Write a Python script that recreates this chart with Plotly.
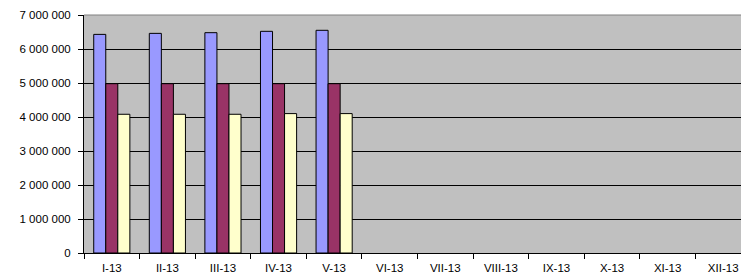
import plotly.graph_objects as go

categories = ["I-13", "II-13", "III-13", "IV-13", "V-13", "VI-13",
              "VII-13", "VIII-13", "IX-13", "X-13", "XI-13", "XII-13"]
series_a = [6430000, 6460000, 6480000, 6520000, 6550000, None, None, None, None, None, None, None]
series_b = [4980000, 4980000, 4980000, 4980000, 4980000, None, None, None, None, None, None, None]
series_c = [4080000, 4080000, 4080000, 4100000, 4100000, None, None, None, None, None, None, None]
y_ticks = [0, 1000000, 2000000, 3000000, 4000000, 5000000, 6000000, 7000000]
y_labels = ["0", "1 000 000", "2 000 000", "3 000 000", "4 000 000",
            "5 000 000", "6 000 000", "7 000 000"]

colors = ["#9999FF", "#993366", "#FFFFCC"]

fig = go.Figure()
for vals, c in zip([series_a, series_b, series_c], colors):
    fig.add_trace(go.Bar(x=categories, y=vals, marker=dict(color=c, line=dict(color="black", width=1)),
                         showlegend=False))

# page body has an 8px margin, so the figure is sized/offset accordingly
fig.update_layout(
    width=741, height=270,
    margin=dict(l=76, r=0, t=7, b=25),
    paper_bgcolor="white", plot_bgcolor="#C0C0C0",
    barmode="group", bargap=0.35, bargroupgap=0,
    font=dict(family="Liberation Sans, Arial, sans-serif", size=11.5, color="black"),
    xaxis=dict(type="category", range=[-0.5, 11.464], tickson="boundaries",
               ticks="outside", ticklen=5, tickcolor="black", ticklabelstandoff=4,
               showline=True, linecolor="black", linewidth=1,
               showgrid=False, zeroline=False),
    yaxis=dict(range=[0, 7000000], tickvals=y_ticks, ticktext=y_labels,
               ticks="outside", ticklen=5, tickcolor="black", ticklabelstandoff=5,
               showline=True, linecolor="black", linewidth=1,
               showgrid=True, gridcolor="black", gridwidth=1, zeroline=False),
    shapes=[dict(type="line", xref="paper", yref="paper", x0=0, x1=1, y0=1, y1=1,
                 line=dict(color="#808080", width=1))],
)

fig.write_html("out.html")
